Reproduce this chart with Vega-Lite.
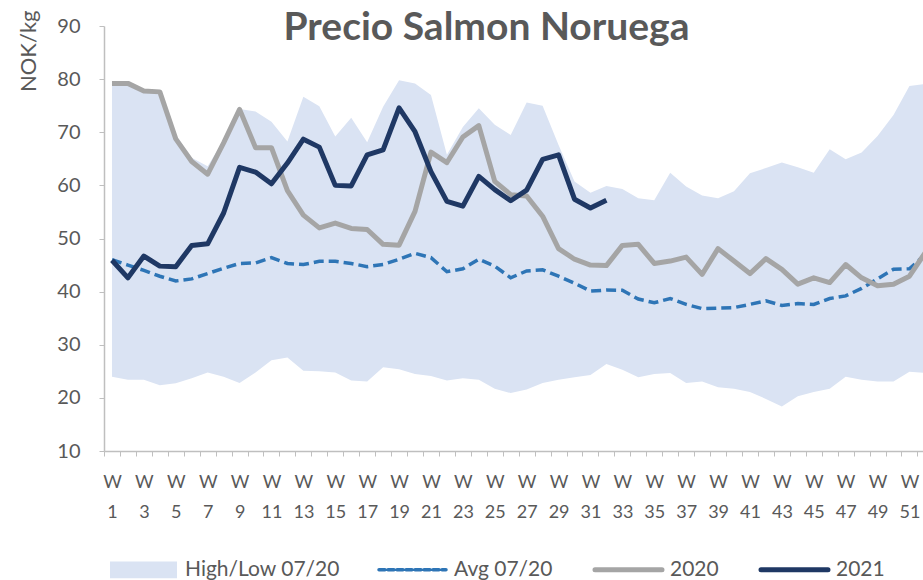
{
  "$schema": "https://vega.github.io/schema/vega-lite/v6.json",
  "width": 819,
  "height": 425,
  "autosize": {"type": "none"},
  "padding": {"left": 104, "top": 26, "right": 0, "bottom": 129},
  "background": "white",
  "title": {
    "text": "Precio Salmon Noruega",
    "font": "Lato",
    "fontSize": 39,
    "fontWeight": "bold",
    "color": "#595959",
    "anchor": "middle",
    "frame": "group",
    "dx": -27,
    "offset": -38
  },
  "config": {
    "view": {"stroke": null},
    "axis": {"grid": false},
    "axisY": {
      "title": "NOK/kg",
      "titleFont": "Lato",
      "titleFontSize": 22,
      "titleFontWeight": "normal",
      "titleColor": "#595959",
      "titleAngle": -90,
      "titleAlign": "right",
      "titleBaseline": "middle",
      "titleX": -76,
      "titleY": -16,
      "labelFont": "Lato",
      "labelFontSize": 20,
      "labelColor": "#595959",
      "labelPadding": 19,
      "tickSize": 5,
      "tickColor": "#BFBFBF",
      "domainColor": "#BFBFBF",
      "domainWidth": 1.5
    }
  },
  "data": {
    "values": [
      {"week": 1, "low": 24.0, "high": 79.5, "avg": 46.0, "y2020": 79.2, "y2021": 45.9},
      {"week": 2, "low": 23.4, "high": 79.5, "avg": 45.0, "y2020": 79.2, "y2021": 42.6},
      {"week": 3, "low": 23.4, "high": 78.0, "avg": 44.0, "y2020": 77.75, "y2021": 46.7},
      {"week": 4, "low": 22.4, "high": 77.8, "avg": 42.9, "y2020": 77.6, "y2021": 44.8},
      {"week": 5, "low": 22.75, "high": 69.5, "avg": 42.0, "y2020": 68.75, "y2021": 44.7},
      {"week": 6, "low": 23.7, "high": 65.2, "avg": 42.4, "y2020": 64.5, "y2021": 48.7},
      {"week": 7, "low": 24.8, "high": 63.6, "avg": 43.4, "y2020": 62.1, "y2021": 49.0},
      {"week": 8, "low": 24.0, "high": 68.5, "avg": 44.4, "y2020": 68.0, "y2021": 54.8},
      {"week": 9, "low": 22.8, "high": 74.4, "avg": 45.3, "y2020": 74.3, "y2021": 63.4},
      {"week": 10, "low": 24.8, "high": 73.9, "avg": 45.4, "y2020": 67.1, "y2021": 62.5},
      {"week": 11, "low": 27.1, "high": 72.0, "avg": 46.4, "y2020": 67.1, "y2021": 60.3},
      {"week": 12, "low": 27.6, "high": 68.25, "avg": 45.3, "y2020": 59.0, "y2021": 64.2},
      {"week": 13, "low": 25.1, "high": 76.7, "avg": 45.1, "y2020": 54.4, "y2021": 68.7},
      {"week": 14, "low": 25.0, "high": 74.9, "avg": 45.7, "y2020": 52.0, "y2021": 67.2},
      {"week": 15, "low": 24.8, "high": 69.2, "avg": 45.7, "y2020": 52.9, "y2021": 60.0},
      {"week": 16, "low": 23.25, "high": 72.75, "avg": 45.3, "y2020": 51.9, "y2021": 59.9},
      {"week": 17, "low": 23.1, "high": 68.1, "avg": 44.7, "y2020": 51.7, "y2021": 65.75},
      {"week": 18, "low": 25.75, "high": 74.8, "avg": 45.1, "y2020": 48.9, "y2021": 66.7},
      {"week": 19, "low": 25.4, "high": 79.8, "avg": 46.1, "y2020": 48.75, "y2021": 74.6},
      {"week": 20, "low": 24.5, "high": 79.2, "avg": 47.2, "y2020": 55.1, "y2021": 70.1},
      {"week": 21, "low": 24.1, "high": 77.0, "avg": 46.4, "y2020": 66.25, "y2021": 62.6},
      {"week": 22, "low": 23.25, "high": 65.75, "avg": 43.75, "y2020": 64.3, "y2021": 57.0},
      {"week": 23, "low": 23.7, "high": 71.0, "avg": 44.3, "y2020": 69.1, "y2021": 56.1},
      {"week": 24, "low": 23.4, "high": 74.5, "avg": 46.1, "y2020": 71.25, "y2021": 61.7},
      {"week": 25, "low": 21.7, "high": 71.4, "avg": 44.8, "y2020": 60.75, "y2021": 59.2},
      {"week": 26, "low": 20.9, "high": 69.5, "avg": 42.6, "y2020": 58.25, "y2021": 57.1},
      {"week": 27, "low": 21.6, "high": 75.6, "avg": 43.9, "y2020": 58.0, "y2021": 59.1},
      {"week": 28, "low": 22.8, "high": 75.0, "avg": 44.1, "y2020": 54.2, "y2021": 64.9},
      {"week": 29, "low": 23.4, "high": 67.6, "avg": 42.9, "y2020": 48.1, "y2021": 65.75},
      {"week": 30, "low": 23.9, "high": 60.75, "avg": 41.6, "y2020": 46.1, "y2021": 57.4},
      {"week": 31, "low": 24.3, "high": 58.6, "avg": 40.1, "y2020": 45.0, "y2021": 55.75},
      {"week": 32, "low": 26.4, "high": 59.9, "avg": 40.3, "y2020": 44.9, "y2021": 57.2},
      {"week": 33, "low": 25.3, "high": 59.3, "avg": 40.25, "y2020": 48.7, "y2021": null},
      {"week": 34, "low": 23.9, "high": 57.6, "avg": 38.6, "y2020": 48.9, "y2021": null},
      {"week": 35, "low": 24.5, "high": 57.2, "avg": 37.9, "y2020": 45.3, "y2021": null},
      {"week": 36, "low": 24.7, "high": 62.4, "avg": 38.7, "y2020": 45.75, "y2021": null},
      {"week": 37, "low": 22.8, "high": 59.8, "avg": 37.6, "y2020": 46.5, "y2021": null},
      {"week": 38, "low": 23.1, "high": 58.1, "avg": 36.8, "y2020": 43.25, "y2021": null},
      {"week": 39, "low": 22.0, "high": 57.6, "avg": 36.9, "y2020": 48.1, "y2021": null},
      {"week": 40, "low": 21.7, "high": 58.9, "avg": 37.0, "y2020": 45.75, "y2021": null},
      {"week": 41, "low": 21.1, "high": 62.3, "avg": 37.6, "y2020": 43.4, "y2021": null},
      {"week": 42, "low": 19.8, "high": 63.25, "avg": 38.25, "y2020": 46.2, "y2021": null},
      {"week": 43, "low": 18.4, "high": 64.3, "avg": 37.4, "y2020": 44.2, "y2021": null},
      {"week": 44, "low": 20.3, "high": 63.4, "avg": 37.75, "y2020": 41.4, "y2021": null},
      {"week": 45, "low": 21.1, "high": 62.4, "avg": 37.6, "y2020": 42.6, "y2021": null},
      {"week": 46, "low": 21.7, "high": 66.8, "avg": 38.7, "y2020": 41.7, "y2021": null},
      {"week": 47, "low": 24.0, "high": 64.9, "avg": 39.2, "y2020": 45.1, "y2021": null},
      {"week": 48, "low": 23.4, "high": 66.2, "avg": 40.6, "y2020": 42.6, "y2021": null},
      {"week": 49, "low": 23.1, "high": 69.3, "avg": 42.4, "y2020": 41.1, "y2021": null},
      {"week": 50, "low": 23.1, "high": 73.25, "avg": 44.2, "y2020": 41.4, "y2021": null},
      {"week": 51, "low": 24.9, "high": 78.7, "avg": 44.3, "y2020": 42.9, "y2021": null},
      {"week": 52, "low": 24.7, "high": 79.1, "avg": 47.0, "y2020": 47.4, "y2021": null}
    ]
  },
  "encoding": {
    "x": {
      "field": "week",
      "type": "quantitative",
      "scale": {"domain": [0.5, 51.85], "nice": false, "zero": false},
      "axis": {
        "title": null,
        "values": [0.5, 1.5, 2.5, 3.5, 4.5, 5.5, 6.5, 7.5, 8.5, 9.5, 10.5, 11.5, 12.5, 13.5, 14.5, 15.5, 16.5, 17.5, 18.5, 19.5, 20.5, 21.5, 22.5, 23.5, 24.5, 25.5, 26.5, 27.5, 28.5, 29.5, 30.5, 31.5, 32.5, 33.5, 34.5, 35.5, 36.5, 37.5, 38.5, 39.5, 40.5, 41.5, 42.5, 43.5, 44.5, 45.5, 46.5, 47.5, 48.5, 49.5, 50.5, 51.5],
        "labelExpr": "(datum.value + 0.5) % 2 == 1 ? ['W', '' + (datum.value + 0.5)] : ''",
        "labelOffset": 8,
        "labelOverlap": false,
        "labelFlush": false,
        "labelBound": false,
        "labelBaseline": "top",
        "labelFont": "Lato",
        "labelFontSize": 18,
        "labelColor": "#595959",
        "labelLineHeight": 30,
        "labelPadding": 17,
        "tickSize": 5,
        "tickColor": "#BFBFBF",
        "tickWidth": 1,
        "domainColor": "#BFBFBF",
        "domainWidth": 1.5
      }
    }
  },
  "layer": [
    {
      "mark": {"type": "area", "clip": true, "opacity": 1},
      "encoding": {
        "y": {
          "field": "low",
          "type": "quantitative",
          "title": "NOK/kg",
          "scale": {"domain": [10, 90], "nice": false, "zero": false},
          "axis": {"values": [10, 20, 30, 40, 50, 60, 70, 80, 90]}
        },
        "y2": {"field": "high"},
        "color": {
          "datum": "High/Low 07/20",
          "type": "nominal",
          "scale": {
            "domain": ["High/Low 07/20", "Avg 07/20", "2020", "2021"],
            "range": ["#DAE3F3", "#2E75B6", "#A5A5A5", "#1F3864"]
          },
          "legend": {
            "title": null,
            "orient": "none",
            "direction": "horizontal",
            "legendX": 6,
            "legendY": 533,
            "labelFont": "Lato",
            "labelFontSize": 21,
            "labelColor": "#595959",
            "labelOffset": 31,
            "symbolOffset": 23,
            "columnPadding": 32,
            "symbolSize": 4489,
            "symbolType": "stroke",
            "encoding": {
              "symbols": {
                "shape": {"value": {"expr": "datum.value === 'High/Low 07/20' ? 'M-1,-0.25H1V0.25H-1Z' : 'stroke'"}},
                "fill": {"value": {"expr": "datum.value === 'High/Low 07/20' ? '#DAE3F3' : 'transparent'"}},
                "stroke": {"value": {"expr": "datum.value === 'High/Low 07/20' ? 'transparent' : datum.value === 'Avg 07/20' ? '#2E75B6' : datum.value === '2020' ? '#A5A5A5' : '#1F3864'"}},
                "strokeWidth": {"value": {"expr": "datum.value === 'High/Low 07/20' ? 0 : datum.value === 'Avg 07/20' ? 3.5 : 5"}},
                "strokeDash": {"value": {"expr": "datum.value === 'Avg 07/20' ? [6, 3] : [1, 0]"}},
                "strokeCap": {"value": "round"},
                "opacity": {"value": 1}
              }
            }
          }
        }
      }
    },
    {
      "mark": {"type": "line", "clip": true, "strokeWidth": 3.5, "strokeDash": [10, 5], "strokeCap": "butt"},
      "encoding": {
        "y": {"field": "avg", "type": "quantitative", "title": "NOK/kg"},
        "color": {"datum": "Avg 07/20", "type": "nominal"}
      }
    },
    {
      "mark": {"type": "line", "clip": true, "strokeWidth": 5, "strokeJoin": "round"},
      "encoding": {
        "y": {"field": "y2020", "type": "quantitative", "title": "NOK/kg"},
        "color": {"datum": "2020", "type": "nominal"}
      }
    },
    {
      "mark": {"type": "line", "clip": true, "strokeWidth": 5, "strokeJoin": "round"},
      "encoding": {
        "y": {"field": "y2021", "type": "quantitative", "title": "NOK/kg"},
        "color": {"datum": "2021", "type": "nominal"}
      }
    }
  ]
}
